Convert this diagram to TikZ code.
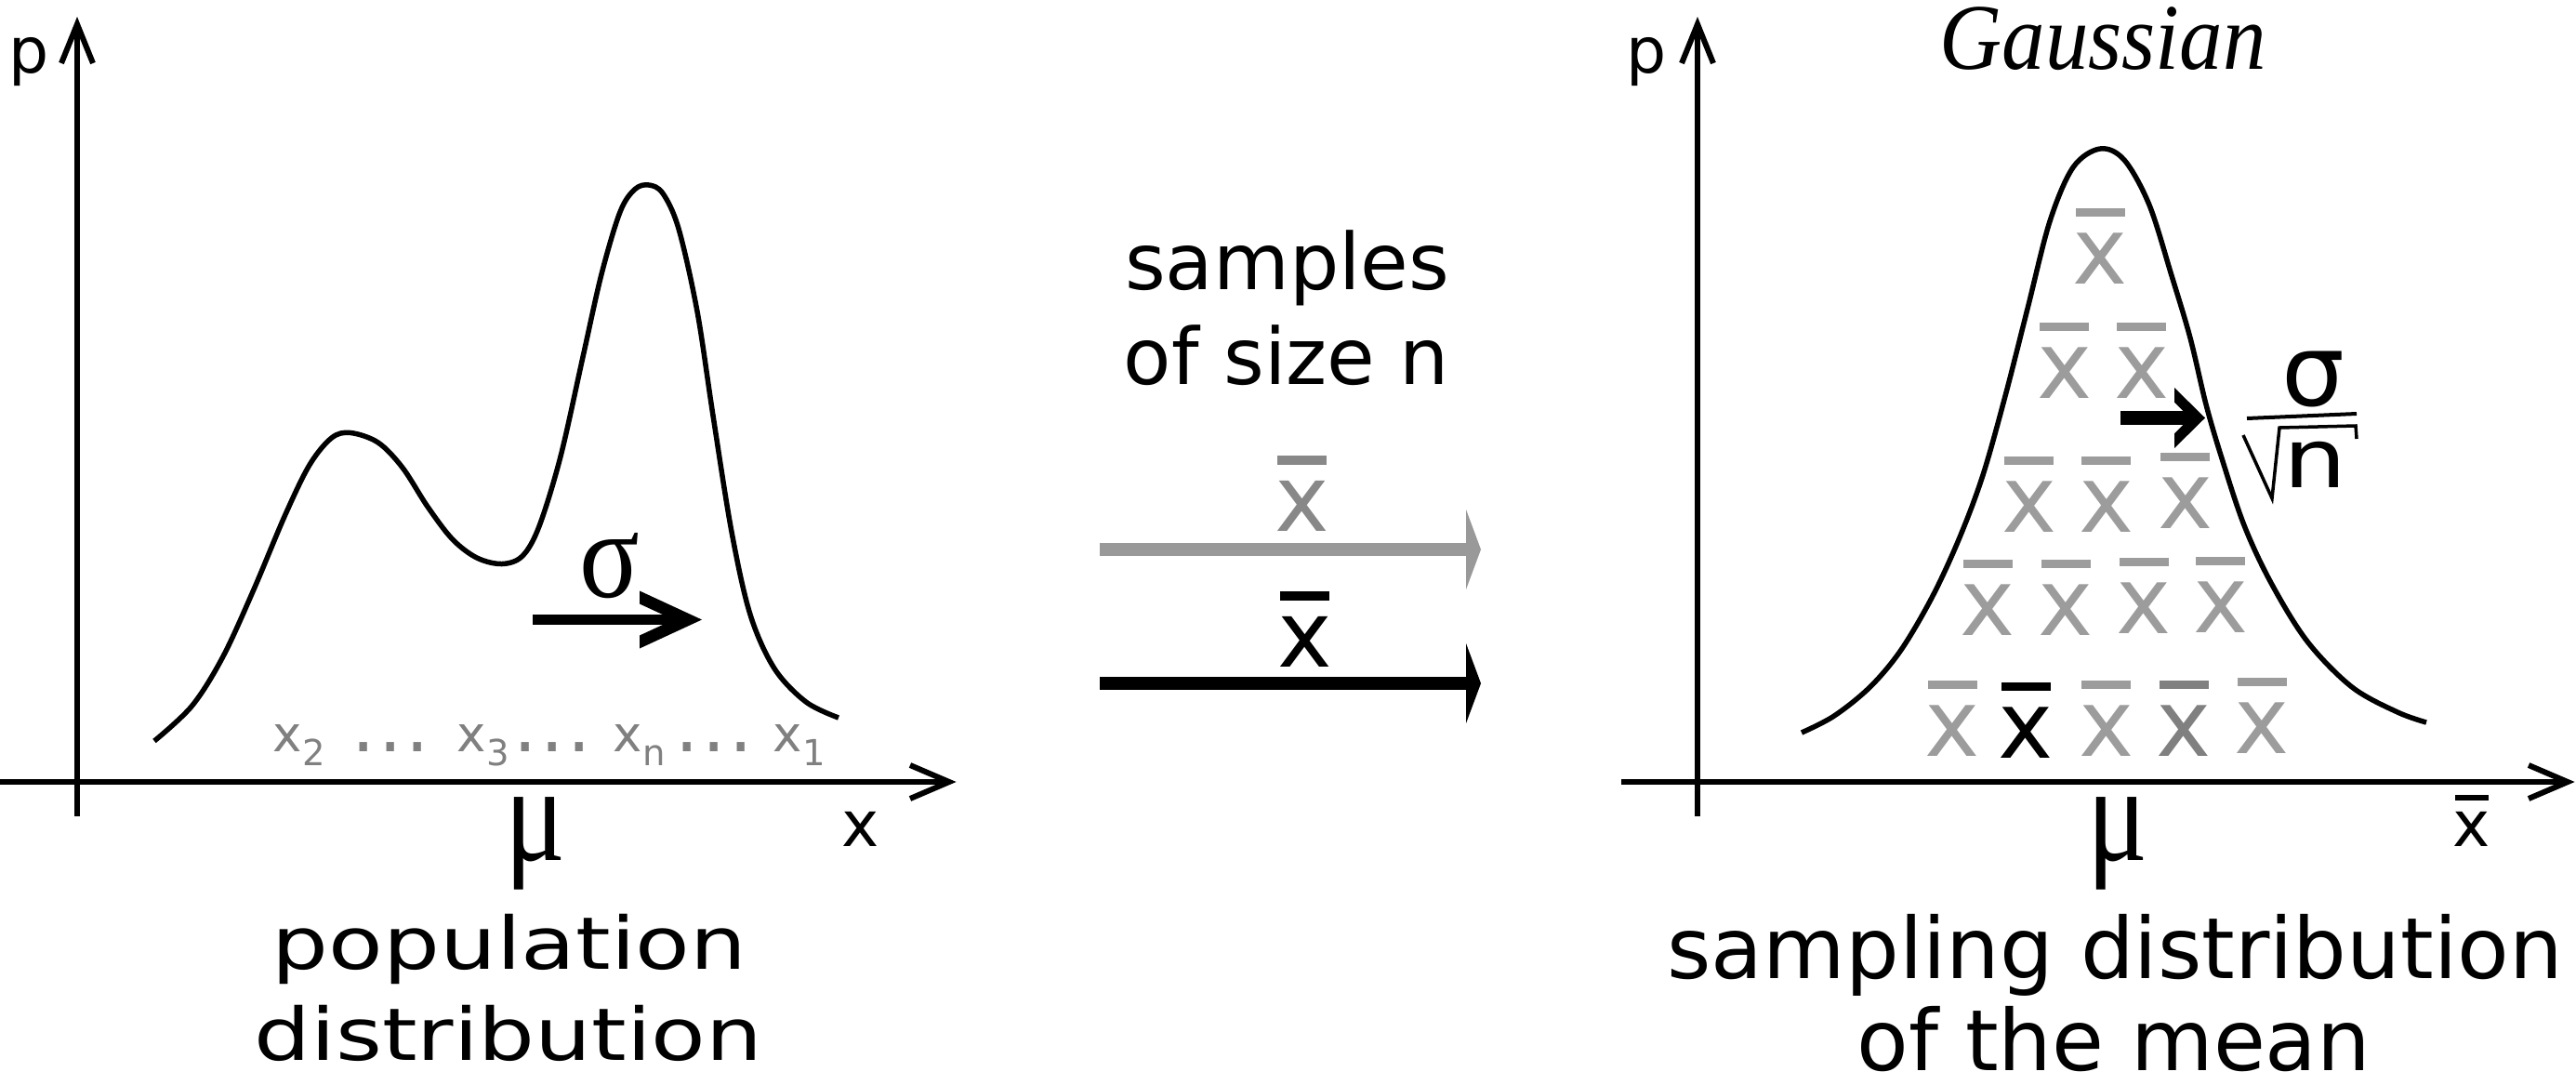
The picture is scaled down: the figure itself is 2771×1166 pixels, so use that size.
\documentclass[tikz,border=0pt]{standalone}
\usepackage{fontspec}
\usepackage{graphicx}
\setmainfont{DejaVu Sans}
\newfontfamily\timesf{Liberation Serif}
\definecolor{xg}{HTML}{9C9C9C}
\definecolor{xgd}{HTML}{808080}
\definecolor{lblg}{HTML}{808080}
\definecolor{midg}{HTML}{888888}
\definecolor{arrg}{HTML}{999999}
\newcommand\xbarsym{\leavevmode\rlap{\kern0.03em\raisebox{0.72em}{\rule{0.53em}{0.095em}}}x}
\newcommand\fs[1]{\fontsize{#1bp}{#1bp}\selectfont}
\newcommand\xsub[1]{x\raisebox{-15bp}{\fs{38.6}#1}}
\begin{document}
\begin{tikzpicture}[x=1bp,y=-1bp,
  txt/.style={inner sep=0pt, anchor=base},
  xb/.style={txt, font=\fs{100}, text=xg},
  axisline/.style={line width=6bp, line cap=butt},
  axishead/.style={line width=6bp, line join=miter, line cap=butt},
  curve/.style={line width=5.5bp, line join=round, line cap=butt},
  glbl/.style={txt, anchor=base west, font=\fs{53}, text=lblg},
  gdots/.style={txt, font=\fs{80}, text=lblg}]
\useasboundingbox (0,0) rectangle (2771,1166);

% ---------------- left panel ----------------
\coordinate (lyb) at (83,878);
\coordinate (lyt) at (83,26);
\coordinate (lxl) at (0,841);
\coordinate (lxr) at (1021,841);
\draw[axisline] (lyb) -- (lyt);
\draw[axishead] (66,68) -- (lyt) -- (100,68);
\draw[axisline] (lxl) -- (lxr);
\draw[axishead] (979,823) -- (lxr) -- (979,859);
\node[txt, font=\fs{68}] (lp) at (31,78) {p};
\node[txt, font=\fs{68}] (lx) at (926,910) {x};
\node[txt, font=\timesf\fs{148}] (lmu) at (576,925) {\scalebox{0.82}[1]{μ}};

\draw[curve] plot[smooth, tension=0.55] coordinates {(166,797) (206.7,759) (240,706) (273,634) (306.7,554) (333,500) (356.7,471) (377,465.5) (406.7,476) (433,503) (460,545) (486.7,580) (513,600) (540,606.5) (562,598) (580,566) (603,491) (627,384) (647,295) (667,228) (683,203.5) (698,199) (713,208) (730,246) (750,335) (767,447) (787,572) (807,661) (833,719) (867,755) (902,772)};

% sigma arrow
\node[txt, font=\timesf\fs{135}] (lsig) at (656,642) {\scalebox{0.89}[1]{σ}};
\coordinate (sa0) at (573,666.5);
\coordinate (sa1) at (735,666.5);
\draw[line width=11bp] (sa0) -- (sa1);
\fill (688,635.5) -- (755,666.5) -- (688,697.5) -- (688,683.5) -- (724.7,666.5) -- (688,649.5) -- cycle;

% sample values
\node[glbl] (x2) at (293.5,808) {\xsub{2}};
\node[gdots] (d1) at (420.5,808) {.\kern3.6bp.\kern3.6bp.};
\node[glbl] (x3) at (491.5,808) {\xsub{3}};
\node[gdots] (d2) at (594.5,808) {.\kern3.6bp.\kern3.6bp.};
\node[glbl] (xn) at (659.5,808) {\xsub{n}};
\node[gdots] (d3) at (768,808) {.\kern3.6bp.\kern3.6bp.};
\node[glbl] (x1) at (831.5,808) {\xsub{1}};

\node[txt, font=\fs{78}] (pop1) at (548,1042) {\scalebox{1.23}[1]{population}};
\node[txt, font=\fs{78}] (pop2) at (547,1140) {\scalebox{1.23}[1]{distribution}};

% ---------------- middle ----------------
\node[txt, font=\fs{84}] (m1) at (1384.6,311.5) {samples};
\node[txt, font=\fs{84}] (m2) at (1384,413.5) {of size n};
\coordinate (ga0) at (1183,591);
\coordinate (ga1) at (1586,591);
\draw[line width=14.6bp, arrg] (ga0) -- (ga1);
\fill[arrg] (1577,548) -- (1593,591) -- (1577,634) -- cycle;
\node[txt, font=\fs{99}, text=midg] (mxg) at (1400.5,571) {\xbarsym};
\coordinate (ba0) at (1183,735);
\coordinate (ba1) at (1586,735);
\draw[line width=14.6bp] (ba0) -- (ba1);
\fill (1577,692) -- (1593,735) -- (1577,778) -- cycle;
\node[txt, font=\fs{99}] (mxb) at (1403.5,717) {\xbarsym};

% ---------------- right panel ----------------
\coordinate (ryb) at (1826,878);
\coordinate (ryt) at (1826,26);
\coordinate (rxl) at (1744,841);
\coordinate (rxr) at (2762,841);
\draw[axisline] (ryb) -- (ryt);
\draw[axishead] (1809,68) -- (ryt) -- (1843,68);
\draw[axisline] (rxl) -- (rxr);
\draw[axishead] (2720,823) -- (rxr) -- (2720,859);
\node[txt, font=\fs{68}] (rp) at (1771,78) {p};
\node[txt, font=\fs{68}] (rx) at (2659,910) {\xbarsym};
\node[txt, font=\timesf\fs{148}] (rmu) at (2278,925) {\scalebox{0.82}[1]{μ}};
\node[txt, font=\timesf\itshape\fs{101}] (gau) at (2262,74) {\scalebox{0.92}[1]{Gaussian}};

\draw[curve] plot[smooth, tension=0.55] coordinates {(1938,788) (1973,770) (2011.5,739) (2045,699) (2079,641) (2108,578) (2133,511) (2157,426) (2181,332) (2205,238) (2230,180) (2259,160) (2285,172) (2312,220.5) (2336,296.5) (2356,363.5) (2373,435) (2390,493) (2414,565) (2443,627) (2482,690) (2530,739) (2579,766) (2610,777)};

% sample means
\node[xb] (r1a) at (2259.5,305) {\xbarsym};
\node[xb] (r2a) at (2221,428) {\xbarsym};
\node[xb] (r2b) at (2304,428) {\xbarsym};
\node[xb] (r3a) at (2183,572) {\xbarsym};
\node[xb] (r3b) at (2266,572) {\xbarsym};
\node[xb] (r3c) at (2351,568) {\xbarsym};
\node[xb] (r4a) at (2138.5,683) {\xbarsym};
\node[xb] (r4b) at (2222.5,683) {\xbarsym};
\node[xb] (r4c) at (2306.5,681) {\xbarsym};
\node[xb] (r4d) at (2389,680) {\xbarsym};
\node[xb] (r5a) at (2100.5,813) {\xbarsym};
\node[xb, text=black] (r5b) at (2179.5,815) {\xbarsym};
\node[xb] (r5c) at (2266,813) {\xbarsym};
\node[xb, text=xgd] (r5d) at (2349.5,813) {\xbarsym};
\node[xb] (r5e) at (2433.5,810) {\xbarsym};

% sigma / sqrt n arrow
\coordinate (ra0) at (2281,449.5);
\coordinate (ra1) at (2358,449.5);
\draw[line width=15bp] (ra0) -- (ra1);
\fill (2339,417) -- (2372,449.5) -- (2339,482) -- (2339,466.4) -- (2356,449.5) -- (2339,432.6) -- cycle;
\node[txt, font=\fs{107}] (rsig) at (2488,436) {σ};
\draw[line width=4bp] (2417,450) -- (2535,445);
\draw[line width=3.5bp, line join=miter] (2413,468) -- (2444,536) -- (2452,460) -- (2534,458) -- (2535,472);
\node[txt, font=\fs{88}] (rn) at (2490,524) {\scalebox{1.22}[1]{n}};

\node[txt, font=\fs{91}] (rl1) at (2275,1052) {sampling distribution};
\node[txt, font=\fs{91}] (rl2) at (2274,1151) {of the mean};
\end{tikzpicture}
\end{document}
